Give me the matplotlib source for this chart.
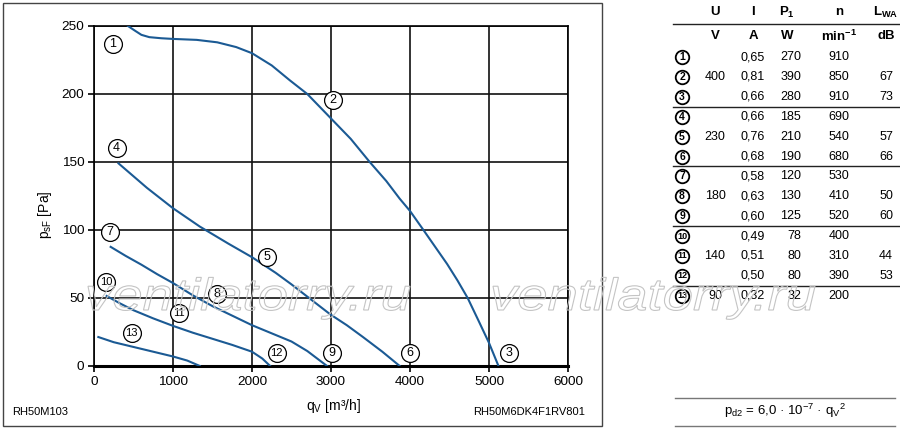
import numpy as np
import matplotlib
matplotlib.use('Agg')
import matplotlib.pyplot as plt
from matplotlib.patches import Rectangle, PathPatch
from matplotlib.textpath import TextPath
from matplotlib.font_manager import FontProperties
from matplotlib.transforms import Affine2D

plt.rcParams['font.family'] = ['Liberation Sans', 'DejaVu Sans']
plt.rcParams['mathtext.fontset'] = 'custom'
plt.rcParams['mathtext.rm'] = 'Liberation Sans'
plt.rcParams['mathtext.it'] = 'Liberation Sans:italic'
plt.rcParams['mathtext.bf'] = 'Liberation Sans:bold'

# fan curves (q in m3/h, p in Pa)
q_400 = [430, 520, 600, 700, 850, 1000, 1300, 1560, 1800, 2000, 2250, 2480, 2700,
         3000, 3250, 3490, 3700, 3870, 4000, 4170, 4470, 4600, 4730, 4870, 5000, 5120]
p_400 = [250, 246.5, 243.5, 241.8, 241, 240.5, 239.8, 238, 234.5, 230, 221, 210, 200,
         182, 167, 150, 136, 123, 114, 100, 75, 63, 50, 33, 17, 0]
q_230 = [310, 500, 670, 1000, 1340, 1700, 2000, 2300, 2500, 2700, 2990, 3200, 3400, 3650, 3870]
p_230 = [149, 139.5, 131, 116, 102.5, 90, 80, 68.5, 60, 51, 38, 30, 21.5, 10.5, 0]
q_180 = [211, 400, 600, 800, 1000, 1250, 1500, 1750, 2000, 2250, 2500, 2700, 2950]
p_180 = [87.6, 81, 74.5, 67.5, 61, 52, 44, 37, 30, 24, 18, 11, 0]
q_140 = [160, 330, 500, 750, 1000, 1250, 1500, 1750, 2000, 2130, 2230]
p_140 = [51.5, 46, 41, 35, 29.5, 24.5, 20, 15.5, 10.5, 5.5, 0]
q_90 = [55, 250, 500, 750, 1000, 1180, 1340]
p_90 = [21.3, 17.5, 14, 10.5, 7, 4, 0]

# operating point markers on the curves
label_nums = ['1', '2', '3', '4', '5', '6', '7', '8', '9', '10', '11', '12', '13']
label_q = [240, 3025, 5250, 287, 2186, 4000, 203, 1560, 3008, 152, 1080, 2312, 477]
label_p = [237, 195.5, 9.5, 160, 80, 9.5, 98.5, 53, 9.5, 62, 39, 9.5, 24]

# table on the right
col_U = ['', '400', '', '', '230', '', '', '180', '', '', '140', '', '90']
col_I = ['0,65', '0,81', '0,66', '0,66', '0,76', '0,68', '0,58', '0,63', '0,60', '0,49', '0,51', '0,50', '0,32']
col_P1 = ['270', '390', '280', '185', '210', '190', '120', '130', '125', '78', '80', '80', '32']
col_n = ['910', '850', '910', '690', '540', '680', '530', '410', '520', '400', '310', '390', '200']
col_LWA = ['', '67', '73', '', '57', '66', '', '50', '60', '', '44', '53', '']
head_top = ['U', 'I', r'P$_\mathregular{1}$', 'n', r'L$_\mathregular{WA}$']
head_units = ['V', 'A', 'W', r'min$^\mathregular{-1}$', 'dB']

W, H = 900, 429
blue = '#1b5a94'

fig = plt.figure(figsize=(W / 100, H / 100), dpi=100)
ax = fig.add_axes([94 / W, (H - 366) / H, 474 / W, 340 / H])

for q, p in [(q_400, p_400), (q_230, p_230), (q_180, p_180), (q_140, p_140), (q_90, p_90)]:
    ax.plot(q, p, color=blue, lw=1.5, zorder=3, solid_joinstyle='round')

ax.scatter(label_q, label_p, s=165, facecolor='white', edgecolor='black', lw=0.9, zorder=4)
for num, q, p in zip(label_nums, label_q, label_p):
    fs = 9 if len(num) == 1 else 8
    ax.text(q, p, num, ha='center', va='center', fontsize=fs, zorder=5)

ax.set_xlim(0, 6000)
ax.set_ylim(0, 250)
ax.set_xticks(np.arange(0, 6001, 1000))
ax.set_yticks(np.arange(0, 251, 50))
ax.grid(True, color='#111111', lw=1.2)
ax.set_axisbelow(True)
ax.tick_params(direction='out', length=4, width=1.2, labelsize=9.7, pad=3)
for s in ['left', 'top', 'right']:
    ax.spines[s].set_linewidth(1.2)
ax.spines['bottom'].set_linewidth(2.2)

# overlay in pixel coordinates for frame, labels and table
ov = fig.add_axes([0, 0, 1, 1], facecolor='none')
ov.set_xlim(0, W)
ov.set_ylim(H, 0)
ov.axis('off')

ov.add_patch(Rectangle((2.5, 2.5), 599, 423, fill=False, ec='#444444', lw=1))
ov.text(45, 215, r'p$_\mathregular{sF}$ [Pa]', rotation=90, ha='center', va='center', fontsize=10)
ov.text(333, 406, r'q$_\mathregular{V}$ [m³/h]', ha='center', va='center', fontsize=10)
ov.text(12, 412, 'RH50M103', ha='left', va='center', fontsize=8)
ov.text(585, 412, 'RH50M6DK4F1RV801', ha='right', va='center', fontsize=8)

# table
col_x = [715, 753, 787, 839, 886]
ov.plot([673, 900], [24, 24], color='#222222', lw=1)
for x, t1, t2 in zip(col_x, head_top, head_units):
    ov.text(x, 12, t1, ha='center', va='center', fontsize=9.5, fontweight='bold')
    ov.text(x, 36, t2, ha='center', va='center', fontsize=9.5, fontweight='bold')

row_y = 57 + 19.9 * np.arange(len(col_I))
for i in [2, 5, 8, 11]:
    yl = (row_y[i] + row_y[i + 1]) / 2
    ov.plot([673, 900], [yl, yl], color='#222222', lw=1)

ov.scatter(np.full(len(row_y), 682), row_y, s=95, facecolor='white', edgecolor='black', lw=1.3, zorder=4)
for i, y in enumerate(row_y):
    num = label_nums[i]
    ov.text(682, y, num, ha='center', va='center', fontsize=7.5 if len(num) == 1 else 6.5,
            fontweight='bold', zorder=5)
    ov.text(col_x[0], y, col_U[i], ha='center', va='center', fontsize=9)
    ov.text(col_x[1], y, col_I[i], ha='center', va='center', fontsize=9)
    ov.text(801, y, col_P1[i], ha='right', va='center', fontsize=9)
    ov.text(col_x[3], y, col_n[i], ha='center', va='center', fontsize=9)
    ov.text(col_x[4], y, col_LWA[i], ha='center', va='center', fontsize=9)

# formula box
ov.plot([675, 895], [398, 398], color='#777777', lw=1)
ov.plot([675, 895], [426, 426], color='#777777', lw=1)
ov.text(785, 411, r'p$_\mathregular{d2}$ = 6,0 · 10$^\mathregular{-7}$ · q$_\mathregular{V}$$^\mathregular{2}$',
        ha='center', va='center', fontsize=9.5)

# watermark
tp = TextPath((0, 0), 'ventilatorry.ru', size=1,
              prop=FontProperties(family='Liberation Sans', style='italic'))
ext = tp.get_extents()
sx = 322 / ext.width
for x0 in [88, 493]:
    tr = Affine2D().translate(-ext.x0, 0).scale(sx, -45).translate(x0, 310) + ov.transData
    ov.add_patch(PathPatch(tp, transform=tr, fc='none', ec='#c4c4c4', lw=0.8, zorder=6))

fig.savefig('out.png', dpi=100)
